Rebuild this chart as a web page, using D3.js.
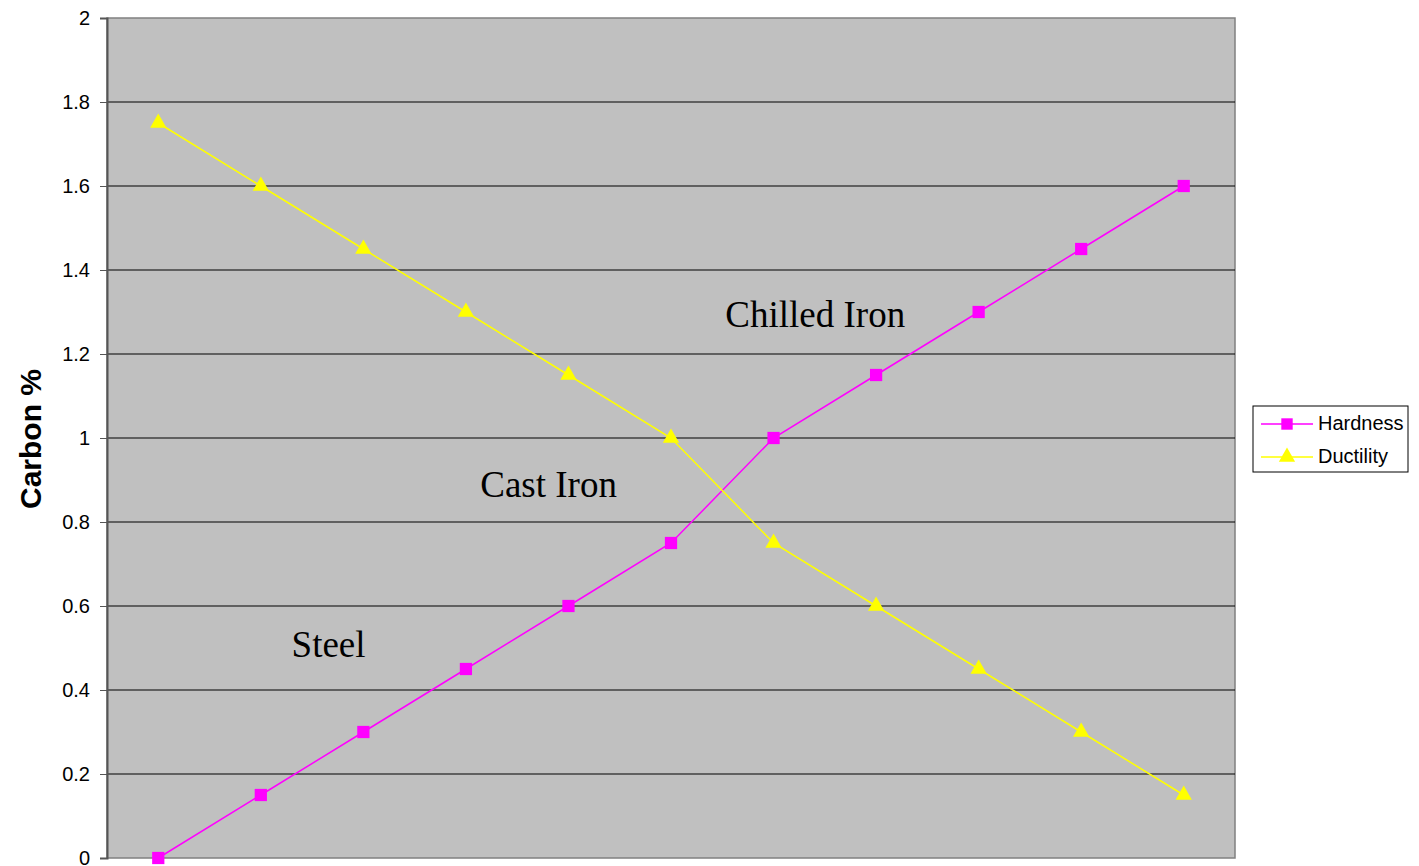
<!DOCTYPE html>
<html>
    <head>
        <meta charset="utf-8">
        <title>Carbon % chart</title>
        <script src="https://d3js.org/d3.v7.min.js"></script>
        <style>
            body { margin: 0; background: #fff; }
        </style>
    </head>
    <body>
        <script>
            const categories = ["1","2","3","4","5","6","7","8","9","10","11"];
            const hardness  = [0, 0.15, 0.3, 0.45, 0.6, 0.75, 1.0, 1.15, 1.3, 1.45, 1.6];
            const ductility = [1.75, 1.6, 1.45, 1.3, 1.15, 1.0, 0.75, 0.6, 0.45, 0.3, 0.15];
            const yTicks = [0, 0.2, 0.4, 0.6, 0.8, 1, 1.2, 1.4, 1.6, 1.8, 2];
            // labels placed in data space: category position (fractional index) and value
            const notes = [
                { text: "Chilled Iron", at: 5.53, value: 1.265 },
                { text: "Cast Iron",    at: 3.14, value: 0.86 },
                { text: "Steel",        at: 1.3,  value: 0.478 },
            ];

            const margin = { left: 107, top: 18, right: 1235, bottom: 858 };

            const svg = d3.select("body").append("svg")
                .attr("width", 1419)
                .attr("height", 866)
            ;

            const x = d3.scaleBand()
                .domain(categories)
                .range([margin.left, margin.right])
            ;
            const xc = d => x(d) + x.bandwidth() / 2;
            const xi = i => margin.left + x.step() * (i + 0.5);
            const y = d3.scaleLinear()
                .domain([0, 2])
                .range([margin.bottom, margin.top])
            ;

            // plot background
            svg.append("rect")
                .attr("x", margin.left).attr("y", margin.top)
                .attr("width", margin.right - margin.left)
                .attr("height", margin.bottom - margin.top)
                .attr("fill", "#c0c0c0")
                .attr("stroke", "#808080")
                .attr("stroke-width", 1.5)
            ;

            // gridlines
            svg.append("g").selectAll("line")
                .data(yTicks.filter(t => t > 0 && t < 2)).join("line")
                .attr("x1", margin.left).attr("x2", margin.right)
                .attr("y1", d => y(d)).attr("y2", d => y(d))
                .attr("stroke", "#000")
                .attr("stroke-width", 1)
            ;

            // y axis
            const yAxis = svg.append("g")
                .attr("transform", `translate(${margin.left},0)`)
                .call(d3.axisLeft(y).tickValues(yTicks).tickSize(7).tickPadding(10)
                    .tickFormat(d => String(d)))
            ;
            yAxis.select(".domain").attr("stroke", "#555").attr("stroke-width", 2);
            yAxis.selectAll(".tick line").attr("stroke", "#555");
            yAxis.selectAll("text")
                .attr("font-family", "Liberation Sans, Arial, sans-serif")
                .attr("font-size", 20)
                .attr("fill", "#000")
            ;

            // y title
            svg.append("text")
                .attr("transform", `translate(41,439) rotate(-90)`)
                .attr("text-anchor", "middle")
                .attr("font-family", "Liberation Sans, Arial, sans-serif")
                .attr("font-weight", "bold")
                .attr("font-size", 30)
                .text("Carbon %")
            ;

            const line = d3.line()
                .x((d, i) => xc(categories[i]))
                .y(d => y(d))
            ;

            // hardness
            svg.append("path")
                .datum(hardness)
                .attr("d", line)
                .attr("fill", "none")
                .attr("stroke", "#ff00ff")
                .attr("stroke-width", 1.5)
            ;
            // ductility
            svg.append("path")
                .datum(ductility)
                .attr("d", line)
                .attr("fill", "none")
                .attr("stroke", "#ffff00")
                .attr("stroke-width", 1.5)
            ;

            const sq = d3.symbol().type(d3.symbolSquare).size(150);
            const tri = d3.symbol().type(d3.symbolTriangle).size(115);

            svg.append("g").selectAll("path")
                .data(hardness).join("path")
                .attr("d", sq)
                .attr("transform", (d, i) => `translate(${xc(categories[i])},${y(d)})`)
                .attr("fill", "#ff00ff")
            ;
            svg.append("g").selectAll("path")
                .data(ductility).join("path")
                .attr("d", tri)
                .attr("transform", (d, i) => `translate(${xc(categories[i])},${y(d)})`)
                .attr("fill", "#ffff00")
            ;

            // annotations
            svg.append("g").selectAll("text")
                .data(notes).join("text")
                .attr("x", d => xi(d.at))
                .attr("y", d => y(d.value))
                .attr("font-family", "Liberation Serif, Times New Roman, serif")
                .attr("font-size", 37)
                .attr("fill", "#000")
                .text(d => d.text)
            ;

            // legend
            const legend = svg.append("g").attr("transform", "translate(1253,406)");
            legend.append("rect")
                .attr("width", 155).attr("height", 66)
                .attr("fill", "#fff")
                .attr("stroke", "#000")
                .attr("stroke-width", 1)
            ;
            const items = [
                { name: "Hardness", color: "#ff00ff", shape: d3.symbol().type(d3.symbolSquare).size(130), dy: 18 },
                { name: "Ductility", color: "#ffff00", shape: d3.symbol().type(d3.symbolTriangle).size(115), dy: 51 },
            ];
            items.forEach(it => {
                legend.append("line")
                    .attr("x1", 8).attr("x2", 60)
                    .attr("y1", it.dy).attr("y2", it.dy)
                    .attr("stroke", it.color).attr("stroke-width", 1.5);
                legend.append("path")
                    .attr("d", it.shape())
                    .attr("transform", `translate(34,${it.dy})`)
                    .attr("fill", it.color);
                legend.append("text")
                    .attr("x", 65).attr("y", it.dy + 6)
                    .attr("font-family", "Liberation Sans, Arial, sans-serif")
                    .attr("font-size", 20)
                    .text(it.name);
            });
        </script>
    </body>
</html>
